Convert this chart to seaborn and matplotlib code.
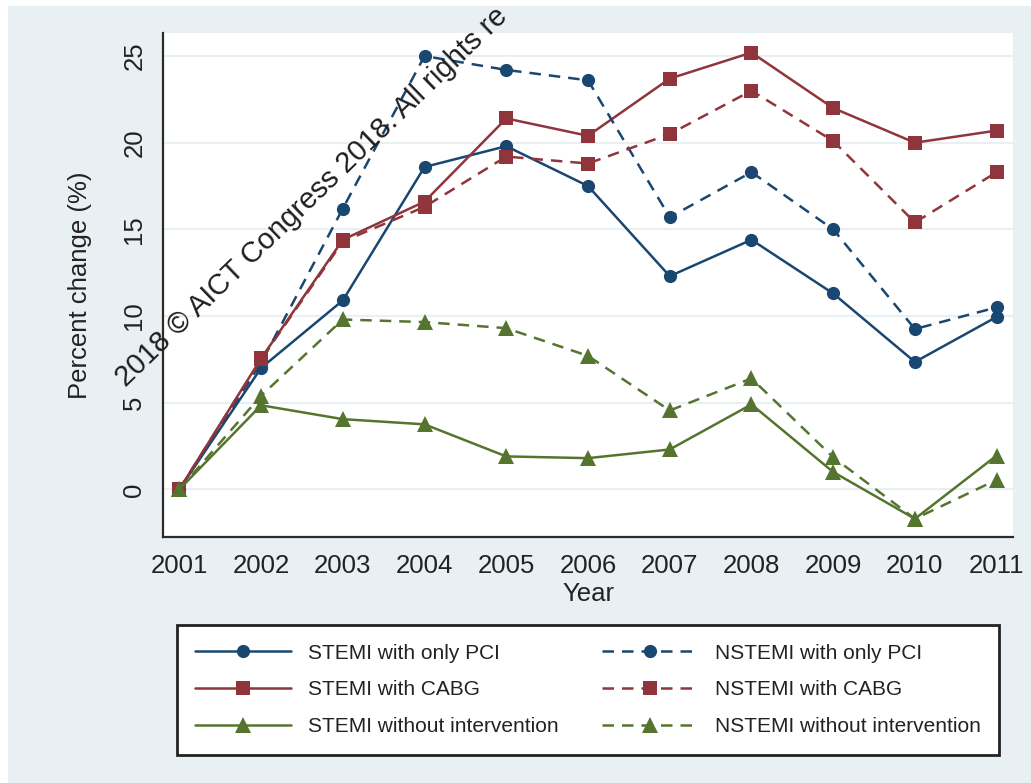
import matplotlib
matplotlib.use("Agg")
import seaborn as sns
from matplotlib import pyplot as plt
from matplotlib.patches import Rectangle

years = list(range(2001, 2012))
stemi_pci = [0, 7.0, 10.9, 18.6, 19.8, 17.5, 12.3, 14.4, 11.3, 7.35, 9.95]
stemi_cabg = [0, 7.55, 14.4, 16.6, 21.4, 20.4, 23.7, 25.2, 22.0, 20.0, 20.7]
stemi_none = [0, 4.85, 4.05, 3.75, 1.9, 1.8, 2.3, 4.9, 1.0, -1.7, 1.95]
nstemi_pci = [0, 7.3, 16.2, 25.0, 24.2, 23.6, 15.7, 18.3, 15.0, 9.25, 10.5]
nstemi_cabg = [0, 7.5, 14.3, 16.3, 19.2, 18.8, 20.5, 23.0, 20.1, 15.4, 18.3]
nstemi_none = [0, 5.4, 9.8, 9.65, 9.3, 7.7, 4.55, 6.4, 1.85, -1.7, 0.55]

y_ticks = [0, 5, 10, 15, 20, 25]

navy = "#1a476f"
maroon = "#90353b"
green = "#55752f"

sns.set_style("white")
plt.rcParams["font.family"] = ["Liberation Sans", "DejaVu Sans"]
plt.rcParams["lines.dashed_pattern"] = (4.6, 3.2)

fig = plt.figure(figsize=(10.31, 7.83), dpi=100)
fig.patch.set_facecolor("white")
fig.patches.append(Rectangle((8 / 1031, 0), 1, 1 - 6 / 783, transform=fig.transFigure,
                             facecolor="#e9f0f3", edgecolor="none", zorder=-10))

ax = fig.add_axes([163 / 1031, 1 - 537 / 783, (1013 - 163) / 1031, (537 - 33) / 783])
ax.set_facecolor("white")

series = [
    ("STEMI with only PCI", stemi_pci, navy, "o", "-", 9.5),
    ("STEMI with CABG", stemi_cabg, maroon, "s", "-", 9.5),
    ("STEMI without intervention", stemi_none, green, "^", "-", 11),
    ("NSTEMI with only PCI", nstemi_pci, navy, "o", "--", 9.5),
    ("NSTEMI with CABG", nstemi_cabg, maroon, "s", "--", 9.5),
    ("NSTEMI without intervention", nstemi_none, green, "^", "--", 11),
]

for name, vals, color, marker, ls, ms in series:
    sns.lineplot(x=years, y=vals, ax=ax, color=color, marker=marker, linestyle=ls,
                 linewidth=1.8, markersize=ms, markeredgewidth=0, label=name)

if ax.get_legend() is not None:
    ax.get_legend().remove()

ax.set_xlim(2000.8, 2011.2)
ax.set_ylim(-2.75, 26.33)
ax.set_xticks(years)
ax.set_yticks(y_ticks)
ax.yaxis.grid(True, color="#e9f0f3", linewidth=1.5)
ax.set_axisbelow(True)

for side in ["top", "right"]:
    ax.spines[side].set_visible(False)
for side in ["left", "bottom"]:
    ax.spines[side].set_color("#2b2b2b")
    ax.spines[side].set_linewidth(1.6)

ax.tick_params(direction="out", length=8, width=1.4, color="#2b2b2b",
               labelsize=18.5, labelcolor="#222222", pad=4)
ax.tick_params(axis="y", labelrotation=90)
for lab in ax.get_yticklabels():
    lab.set_va("center")

ax.set_xlabel("Year", fontsize=18.5, color="#222222", labelpad=3)
ax.set_ylabel("Percent change (%)", fontsize=18.5, color="#222222", labelpad=22)

handles, labels = ax.get_legend_handles_labels()
leg = fig.legend(handles, labels, ncol=2, loc="upper center",
                 bbox_to_anchor=(588 / 1031, 1 - 625 / 783), borderaxespad=0,
                 frameon=True, fontsize=15, handlelength=4.6, handletextpad=0.8,
                 columnspacing=2.1, labelspacing=0.85, borderpad=0.9,
                 fancybox=False, edgecolor="#222222", framealpha=1)
leg.get_frame().set_linewidth(2)
for t in leg.get_texts():
    t.set_color("#222222")

fig.text(126 / 1031, 1 - 388 / 783, "2018 \u00a9 AICT Congress 2018. All rights re",
         rotation=44, rotation_mode="anchor", ha="left", va="baseline",
         fontsize=21, color="#1e1e1e")

fig.savefig("out.png", dpi=100, facecolor=fig.get_facecolor())
